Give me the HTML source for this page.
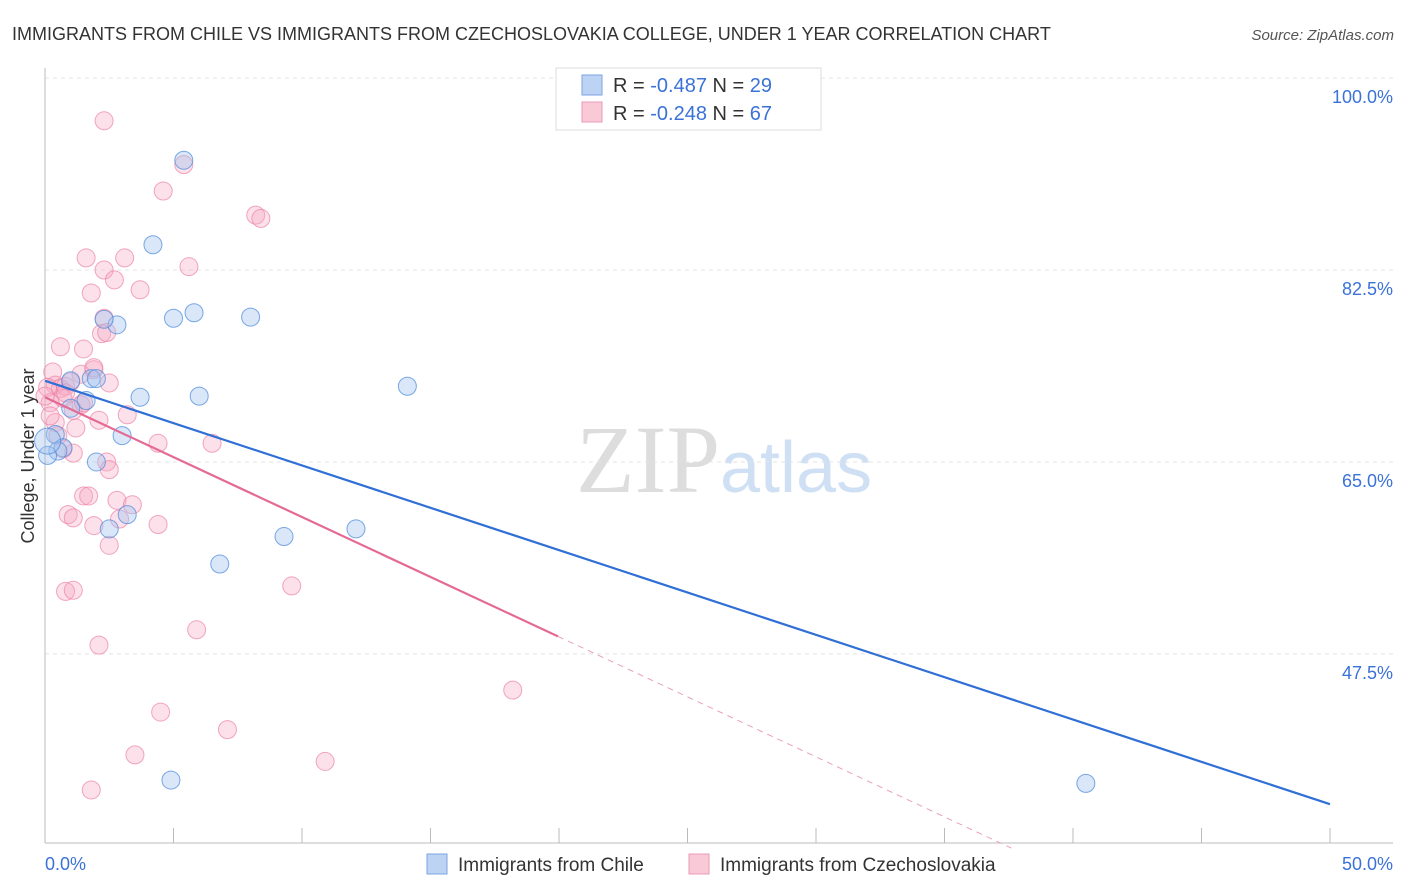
<!DOCTYPE html>
<html><head><meta charset="utf-8"><style>
body{margin:0;background:#fff;font-family:"Liberation Sans",sans-serif}
svg{display:block}
</style></head><body>
<svg id="c" width="1406" height="892">
<text x="12" y="40" font-size="18" fill="#333">IMMIGRANTS FROM CHILE VS IMMIGRANTS FROM CZECHOSLOVAKIA COLLEGE, UNDER 1 YEAR CORRELATION CHART</text>
<text x="1394" y="40" font-size="15" fill="#555" font-style="italic" text-anchor="end">Source: ZipAtlas.com</text>
<text x="720" y="492" font-size="96" fill="#ddd" text-anchor="end" font-family="Liberation Serif">ZIP</text>
<text x="720" y="492" font-size="72" fill="#cfe0f5">atlas</text>
<g id="grid"></g><g id="pts"></g><g id="lines"></g>
<text x="34" y="456" font-size="18" fill="#333" text-anchor="middle" transform="rotate(-90 34 456)">College, Under 1 year</text>
<g>
<rect x="556" y="68" width="265" height="62" fill="#fff" stroke="#ddd"/>
<rect x="582" y="75" width="20" height="20" fill="#bcd3f3" stroke="#7aa5e0"/>
<rect x="582" y="102" width="20" height="20" fill="#f9c9d8" stroke="#ec9ab4"/>
<text x="613" y="92" font-size="20" fill="#333">R = <tspan fill="#3a72d8">-0.487</tspan>   N = <tspan fill="#3a72d8">29</tspan></text>
<text x="613" y="120" font-size="20" fill="#333">R = <tspan fill="#3a72d8">-0.248</tspan>   N = <tspan fill="#3a72d8">67</tspan></text>
</g>
<g>
<rect x="427" y="854" width="20" height="20" fill="#bcd3f3" stroke="#7aa5e0"/>
<text x="458" y="871" font-size="19" fill="#333">Immigrants from Chile</text>
<rect x="689" y="854" width="20" height="20" fill="#f9c9d8" stroke="#ec9ab4"/>
<text x="720" y="871" font-size="19" fill="#333">Immigrants from Czechoslovakia</text>
</g>
<text x="45" y="870" font-size="18" fill="#3a72d8">0.0%</text>
<text x="1393" y="870" font-size="18" fill="#3a72d8" text-anchor="end">50.0%</text>
</svg>
<script>
const yTicks=[100,82.5,65,47.5];
const yTickLabels=["100.0%","82.5%","65.0%","47.5%"];
const chileX=[5.4,4.2,2.8,5.0,5.8,8.0,14.1,1.8,1.0,1.6,1.0,3.7,6.0,3.0,0.4,0.7,0.5,0.1,2.0,3.2,2.5,9.3,12.1,6.8,4.9,40.5,2.3,2.0,0.1];
const chileY=[92.5,84.8,77.5,78.1,78.6,78.2,71.9,72.6,72.4,70.6,69.9,70.9,71.0,67.4,67.5,66.3,66.0,65.6,65.0,60.2,58.9,58.2,58.9,55.7,36.0,35.7,78.0,72.6,66.9];
const czX=[2.3,5.4,4.6,8.2,8.4,1.6,3.1,2.3,5.6,2.7,3.7,1.8,2.3,2.2,2.4,0.6,1.5,1.9,1.4,2.5,0.3,0.4,0.6,0.8,1.0,0.1,0.7,0.2,1.1,3.2,2.1,1.2,4.4,6.5,0.4,1.1,0.7,2.4,2.5,1.5,1.7,2.8,3.4,0.9,1.1,4.4,1.9,2.9,2.5,9.6,0.8,1.1,5.9,2.1,18.2,4.5,7.1,3.5,10.9,1.8,0.2,0.5,1.4,1.9,0.0,0.8,1.5];
const czY=[96.1,92.1,89.7,87.5,87.2,83.6,83.6,82.5,82.8,81.6,80.7,80.4,78.1,76.7,76.8,75.5,75.3,73.4,73.0,72.2,73.2,72.0,71.7,71.9,72.3,71.8,70.8,70.4,69.7,69.3,68.8,68.1,66.7,66.7,68.6,65.8,66.2,65.0,64.3,61.9,61.9,61.5,61.1,60.2,59.9,59.3,59.2,59.8,57.4,53.7,53.2,53.3,49.7,48.3,44.2,42.2,40.6,38.3,37.7,35.1,69.2,67.4,70.2,73.6,71.0,71.3,70.4];
const chileLine=[[0,72.4],[50,33.8]];
const czLineSolid=[[0,70.9],[19.96,49.1]];
const czLineDash=[[19.96,49.1],[37.6,29.8]];
const sx=v=>45+v/50*1285, sy=v=>78+(100-v)*10.97;
const NS="http://www.w3.org/2000/svg";
function mk(t,a,p){const e=document.createElementNS(NS,t);for(const k in a)e.setAttribute(k,a[k]);p.appendChild(e);return e;}
const g=document.getElementById('grid');
yTicks.forEach((t,i)=>{
 const l=mk('line',{x1:45,x2:1393,y1:sy(t),y2:sy(t),stroke:'#e3e3e3','stroke-dasharray':'4,4'},g);
 
 
 const tx=mk('text',{x:1393,y:sy(t)+25,'font-size':18,fill:'#3a72d8','text-anchor':'end'},g);
 tx.textContent=yTickLabels[i];
 
 
});
const ax=mk('line',{x1:45,x2:45,y1:68,y2:843,stroke:'#bbb'},g);


const xa=mk('line',{x1:45,x2:1393,y1:843,y2:843,stroke:'#bbb'},g);


for(let v=0;v<=50;v+=5){const t=mk('line',{x1:sx(v),x2:sx(v),y1:828,y2:843,stroke:'#bbb'},g);
 
 }
const p=document.getElementById('pts');
czX.forEach((x,i)=>{const c=mk('circle',{cx:sx(x),cy:sy(czY[i]),r:9,fill:'rgba(246,170,195,0.35)',stroke:'rgba(236,130,165,0.7)'},p);
 
 });
chileX.forEach((x,i)=>{const c=mk('circle',{cx:sx(x),cy:sy(chileY[i]),r:i==28?13:9,fill:'rgba(160,195,240,0.4)',stroke:'rgba(80,140,220,0.75)'},p);
 
 });
const L=document.getElementById('lines');
function ln(a,st,w,d,name){const e=mk('line',{x1:sx(a[0][0]),y1:sy(a[0][1]),x2:sx(a[1][0]),y2:sy(a[1][1]),stroke:st,'stroke-width':w},L);if(d)e.setAttribute('stroke-dasharray',d);
 
 }
ln(chileLine,'#2f6fd6',2.2,null,'chile-trend-line');
ln(czLineSolid,'#e56a93',2.2,null,'czechoslovakia-trend-line');
ln(czLineDash,'#e9a0b8',1,'6,5','czechoslovakia-trend-extension');
</script>
</body></html>
